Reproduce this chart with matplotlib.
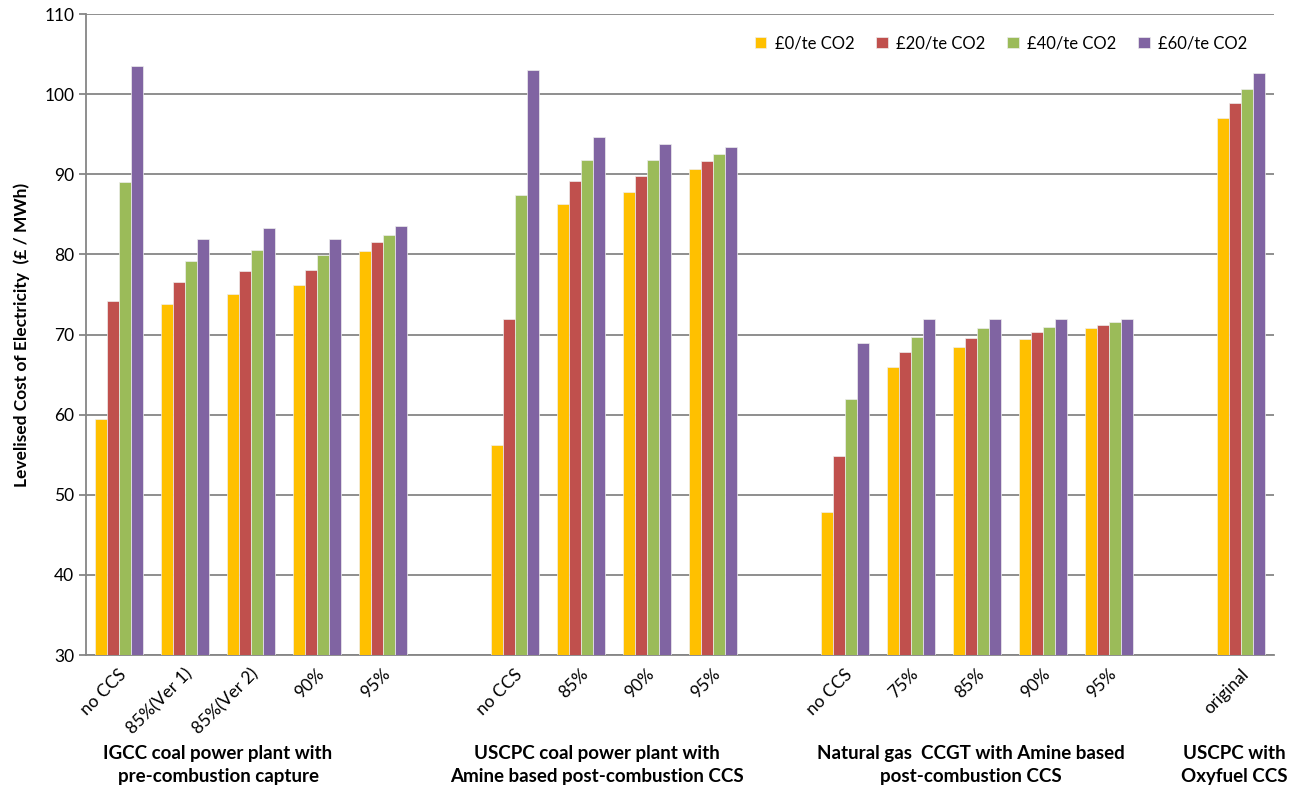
import numpy as np
import matplotlib.pyplot as plt
import matplotlib.transforms as mtransforms

plt.rcParams['font.family'] = ['Lato', 'DejaVu Sans']

# categories, '' = spacer between technology groups
categories = ['no CCS', '85%(Ver 1)', '85%(Ver 2)', '90%', '95%', '',
              'no CCS', '85%', '90%', '95%', '',
              'no CCS', '75%', '85%', '90%', '95%', '',
              'original']

series_names = ['£0/te CO2', '£20/te CO2', '£40/te CO2', '£60/te CO2']
co2_0 = [59.4, 73.8, 75.1, 76.2, 80.4, None,
         56.2, 86.3, 87.8, 90.6, None,
         47.9, 65.9, 68.4, 69.4, 70.8, None,
         97.0]
co2_20 = [74.2, 76.5, 77.9, 78.1, 81.5, None,
          71.9, 89.2, 89.8, 91.6, None,
          54.8, 67.8, 69.6, 70.3, 71.2, None,
          98.9]
co2_40 = [89.0, 79.2, 80.6, 79.9, 82.4, None,
          87.4, 91.8, 91.8, 92.5, None,
          61.9, 69.7, 70.8, 71.0, 71.6, None,
          100.7]
co2_60 = [103.5, 81.9, 83.3, 81.9, 83.5, None,
          103.0, 94.7, 93.8, 93.4, None,
          68.9, 71.9, 71.9, 71.9, 71.9, None,
          102.7]
colors = ['#FFC000', '#C0504D', '#9BBB59', '#8064A2']

group_labels = ['IGCC coal power plant with\npre-combustion capture',
                'USCPC coal power plant with\nAmine based post-combustion CCS',
                'Natural gas  CCGT with Amine based\npost-combustion CCS',
                'USCPC with\nOxyfuel CCS']
group_label_x = [1.5, 7.24, 12.9, 16.9]

fig = plt.figure(figsize=(13.01, 7.93), dpi=100)
ax = fig.add_axes([0.0661, 0.174, 0.9132, 0.8083])

x = np.arange(len(categories))
bw = 0.182
allseries = [co2_0, co2_20, co2_40, co2_60]
for i, (vals, c, name) in enumerate(zip(allseries, colors, series_names)):
    h = np.array([np.nan if v is None else v for v in vals], dtype=float)
    ax.bar(x + (i - 1.5) * bw, h - 30, bw, bottom=30, color=c, label=name,
           edgecolor='#eeeeee', linewidth=0.5, zorder=3)

ax.set_xlim(-0.5, len(categories) - 0.5)
ax.set_ylim(30, 110)
ax.set_yticks(np.arange(30, 111, 10))
ax.grid(axis='y', color='#868686', linewidth=1.3, zorder=0)
for s in ['top', 'right']:
    ax.spines[s].set_visible(False)
for s in ['left', 'bottom']:
    ax.spines[s].set_color('#868686')
    ax.spines[s].set_linewidth(1.3)
ax.tick_params(axis='y', colors='#868686', labelcolor='black', labelsize=12.5,
               length=5, width=1.3)

ticks = [p for p, c in zip(x, categories) if c]
ticklabels = [c for c in categories if c]
ax.set_xticks(ticks)
ax.set_xticklabels(ticklabels, rotation=45, ha='right', va='center',
                   rotation_mode='anchor', fontsize=12.5)
ax.tick_params(axis='x', length=0, pad=12)
offset = mtransforms.ScaledTranslation(5 / 100, 0, fig.dpi_scale_trans)
for lab in ax.get_xticklabels():
    lab.set_transform(lab.get_transform() + offset)

ax.set_ylabel('Levelised Cost of Electricity  (£ / MWh)', fontsize=12.5,
              fontweight='bold', labelpad=10)

trans = mtransforms.blended_transform_factory(ax.transData, fig.transFigure)
for gx, gl in zip(group_label_x, group_labels):
    fig.text(gx, 1 - 765 / 793, gl, transform=trans, ha='center', va='center',
             fontsize=13.5, fontweight='bold', linespacing=1.45)

ax.legend(loc='upper right', bbox_to_anchor=(0.99, 0.99), ncol=4,
          frameon=False, fontsize=12, handlelength=0.7, handleheight=0.7,
          columnspacing=1.3, handletextpad=0.5)

fig.savefig('out.png', dpi=100)
